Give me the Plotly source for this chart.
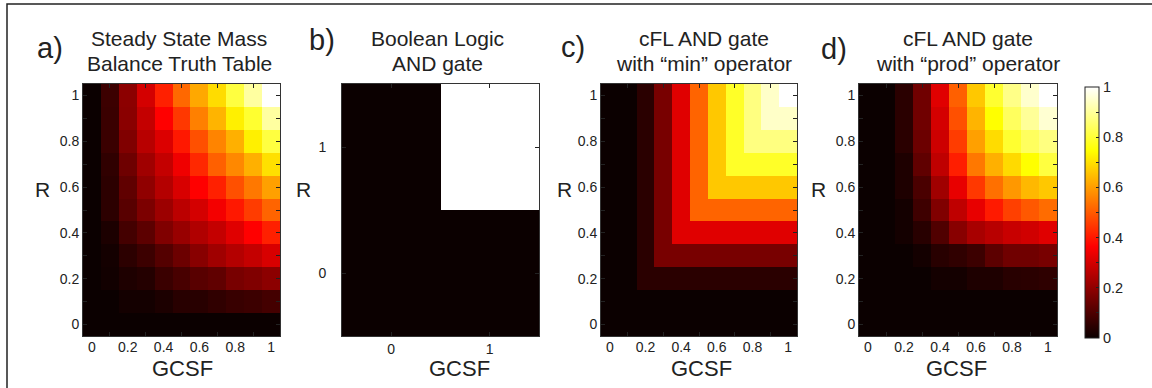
import plotly.graph_objects as go

# ---------------- data ----------------
gcsf_levels = [0.0, 0.1, 0.2, 0.3, 0.4, 0.5, 0.6, 0.7, 0.8, 0.9, 1.0]
r_levels = [0.0, 0.1, 0.2, 0.3, 0.4, 0.5, 0.6, 0.7, 0.8, 0.9, 1.0]
bool_levels = [0, 1]

x_tick_vals = [0.0, 0.2, 0.4, 0.6, 0.8, 1.0]
x_tick_text = ["0", "0.2", "0.4", "0.6", "0.8", "1"]
y_tick_vals = [0.0, 0.1, 0.2, 0.3, 0.4, 0.5, 0.6, 0.7, 0.8, 0.9, 1.0]
y_tick_text = ["0", "", "0.2", "", "0.4", "", "0.6", "", "0.8", "", "1"]
top_tick_vals = [0.1, 0.3, 0.5, 0.7, 0.9]
cbar_tick_vals = [0.0, 0.1, 0.2, 0.3, 0.4, 0.5, 0.6, 0.7, 0.8, 0.9, 1.0]
cbar_tick_text = ["0", "", "0.2", "", "0.4", "", "0.6", "", "0.8", "", "1"]

# rows: R = 0 ... 1 (bottom to top); columns: GCSF = 0 ... 1
steady_state = [
    [0, 0, 0, 0, 0, 0, 0, 0, 0, 0, 0],
    [0, 0, 0.013, 0.013, 0.026, 0.043, 0.043, 0.055, 0.067, 0.073, 0.085],
    [0, 0.011, 0.029, 0.037, 0.070, 0.091, 0.115, 0.127, 0.163, 0.175, 0.193],
    [0, 0.013, 0.049, 0.073, 0.109, 0.145, 0.187, 0.223, 0.253, 0.277, 0.306],
    [0, 0.026, 0.085, 0.121, 0.175, 0.211, 0.247, 0.277, 0.318, 0.365, 0.413],
    [0, 0.049, 0.115, 0.169, 0.217, 0.264, 0.300, 0.348, 0.401, 0.455, 0.514],
    [0, 0.049, 0.127, 0.199, 0.253, 0.306, 0.365, 0.413, 0.485, 0.544, 0.604],
    [0, 0.055, 0.148, 0.223, 0.277, 0.342, 0.425, 0.508, 0.568, 0.628, 0.700],
    [0, 0.070, 0.175, 0.259, 0.312, 0.401, 0.485, 0.562, 0.628, 0.724, 0.810],
    [0, 0.070, 0.190, 0.277, 0.365, 0.449, 0.556, 0.634, 0.724, 0.794, 0.905],
    [0, 0.073, 0.193, 0.300, 0.413, 0.520, 0.616, 0.694, 0.810, 0.905, 1.000],
]

boolean_and = [
    [0, 0],
    [0, 1],
]

cfl_min = [
    [0, 0, 0, 0, 0, 0, 0, 0, 0, 0, 0],
    [0, 0, 0, 0, 0, 0, 0, 0, 0, 0, 0],
    [0, 0, 0.046, 0.046, 0.046, 0.046, 0.046, 0.046, 0.046, 0.046, 0.046],
    [0, 0, 0.046, 0.163, 0.163, 0.163, 0.163, 0.163, 0.163, 0.163, 0.163],
    [0, 0, 0.046, 0.163, 0.318, 0.318, 0.318, 0.318, 0.318, 0.318, 0.318],
    [0, 0, 0.046, 0.163, 0.318, 0.514, 0.514, 0.514, 0.514, 0.514, 0.514],
    [0, 0, 0.046, 0.163, 0.318, 0.514, 0.664, 0.664, 0.664, 0.664, 0.664],
    [0, 0, 0.046, 0.163, 0.318, 0.514, 0.664, 0.786, 0.786, 0.786, 0.786],
    [0, 0, 0.046, 0.163, 0.318, 0.514, 0.664, 0.786, 0.873, 0.873, 0.873],
    [0, 0, 0.046, 0.163, 0.318, 0.514, 0.664, 0.786, 0.873, 0.945, 0.945],
    [0, 0, 0.046, 0.163, 0.318, 0.514, 0.664, 0.786, 0.873, 0.945, 1.000],
]

cfl_prod = [
    [0, 0, 0, 0, 0, 0, 0, 0, 0, 0, 0],
    [0, 0, 0, 0, 0, 0, 0, 0, 0, 0, 0],
    [0, 0, 0, 0, 0.013, 0.013, 0.029, 0.029, 0.043, 0.046, 0.052],
    [0, 0, 0, 0.013, 0.043, 0.055, 0.073, 0.121, 0.151, 0.151, 0.163],
    [0, 0, 0.013, 0.043, 0.103, 0.187, 0.235, 0.259, 0.283, 0.295, 0.318],
    [0, 0, 0.013, 0.076, 0.175, 0.270, 0.330, 0.404, 0.461, 0.497, 0.526],
    [0, 0, 0.029, 0.094, 0.223, 0.330, 0.449, 0.532, 0.592, 0.640, 0.664],
    [0, 0, 0.029, 0.127, 0.270, 0.410, 0.544, 0.628, 0.690, 0.746, 0.810],
    [0, 0, 0.046, 0.145, 0.290, 0.455, 0.604, 0.694, 0.794, 0.840, 0.873],
    [0, 0, 0.046, 0.151, 0.300, 0.485, 0.634, 0.746, 0.840, 0.897, 0.955],
    [0, 0, 0.046, 0.151, 0.318, 0.508, 0.664, 0.794, 0.880, 0.950, 1.000],
]

panel_letters = ["a)", "b)", "c)", "d)"]
panel_titles = [
    ("Steady State Mass", "Balance Truth Table"),
    ("Boolean Logic", "AND gate"),
    ("cFL AND gate", "with \u201cmin\u201d operator"),
    ("cFL AND gate", "with \u201cprod\u201d operator"),
]
x_label = "GCSF"
y_label = "R"

# ---------------- layout geometry (pixels) ----------------
W, H = 1152, 388
FONT = "Liberation Sans, Arial, Helvetica, sans-serif"
INK = "#222222"
hot = [[0.0, "#0b0000"], [0.365, "#ff0000"], [0.746, "#ffff00"], [1.0, "#ffffff"]]

plot_top, plot_bot = 84, 336
panels_px = [(83, 280), (342, 539), (601, 797), (859, 1057)]


def px_x(p):
    return p / W


def px_y(p):
    return 1 - p / H


fig = go.Figure()

matrices = [steady_state, boolean_and, cfl_min, cfl_prod]
for i, z in enumerate(matrices):
    xs = bool_levels if i == 1 else gcsf_levels
    ys = bool_levels if i == 1 else r_levels
    fig.add_trace(go.Heatmap(
        x=xs, y=ys, z=z, coloraxis="coloraxis",
        xaxis=f"x{i + 1}" if i else "x", yaxis=f"y{i + 1}" if i else "y",
    ))

layout = dict(
    width=W, height=H,
    margin=dict(l=0, r=0, t=0, b=0),
    paper_bgcolor="white", plot_bgcolor="white",
    font=dict(family=FONT, color=INK),
    showlegend=False,
    coloraxis=dict(
        colorscale=hot, cmin=0, cmax=1,
        colorbar=dict(
            x=px_x(1085), xanchor="left", xpad=0,
            y=px_y(87), yanchor="top", ypad=0,
            len=251, lenmode="pixels",
            thickness=14, thicknessmode="pixels",
            outlinecolor=INK, outlinewidth=1,
            tickmode="array", tickvals=cbar_tick_vals, ticktext=cbar_tick_text,
            ticks="inside", ticklen=3, tickcolor=INK,
            tickfont=dict(size=14.5, family=FONT, color=INK),
        ),
    ),
)

for i, (x0, x1) in enumerate(panels_px):
    xa = "xaxis" if i == 0 else f"xaxis{i + 1}"
    ya = "yaxis" if i == 0 else f"yaxis{i + 1}"
    yname = "y" if i == 0 else f"y{i + 1}"
    xname = "x" if i == 0 else f"x{i + 1}"
    common = dict(showline=True, linecolor="#333333", linewidth=1, mirror="allticks",
                  showgrid=False, zeroline=False, fixedrange=True,
                  tickfont=dict(size=14, family=FONT, color=INK))
    if i == 1:
        layout[xa] = dict(domain=[px_x(x0), px_x(x1)], anchor=yname, range=[-0.5, 1.5],
                          tickmode="array", tickvals=[0, 1], ticktext=["0", "1"],
                          ticks="inside", ticklen=4, tickcolor=INK,
                          ticklabelstandoff=0, **common)
        layout[ya] = dict(domain=[px_y(plot_bot), px_y(plot_top)], anchor=xname, range=[-0.5, 1.5],
                          tickmode="array", tickvals=[0, 1], ticktext=["0", "1"],
                          ticks="inside", ticklen=4, tickcolor=INK,
                          ticklabelstandoff=12, **common)
    else:
        layout[xa] = dict(domain=[px_x(x0), px_x(x1)], anchor=yname, range=[-0.05, 1.05],
                          tickmode="array", tickvals=x_tick_vals, ticktext=x_tick_text,
                          ticks="", ticklabelstandoff=-2,
                          minor=dict(tickmode="array", tickvals=top_tick_vals, ticks="inside",
                                     ticklen=4, tickcolor=INK, showgrid=False),
                          **common)
        layout[ya] = dict(domain=[px_y(plot_bot), px_y(plot_top)], anchor=xname, range=[-0.05, 1.05],
                          tickmode="array", tickvals=y_tick_vals, ticktext=y_tick_text,
                          ticks="inside", ticklen=4, tickcolor=INK,
                          ticklabelstandoff=0, **common)

fig.update_layout(**layout)

# ---------------- text ----------------
letter_pos = [(50, 48), (322, 40), (573, 47), (834, 49)]
title_cx = [179, 437, 704, 968]
ylab_cx = [42, 303, 564, 818]
xlab_cx = [182, 459, 701, 956]

for i in range(4):
    fig.add_annotation(x=px_x(letter_pos[i][0]), y=px_y(letter_pos[i][1]), xref="paper", yref="paper",
                       text=panel_letters[i], showarrow=False, xanchor="center", yanchor="middle",
                       font=dict(size=29, family=FONT, color=INK))
    fig.add_annotation(x=px_x(title_cx[i]), y=px_y(39), xref="paper", yref="paper",
                       text=panel_titles[i][0], showarrow=False, xanchor="center", yanchor="middle",
                       font=dict(size=21, family=FONT, color=INK))
    fig.add_annotation(x=px_x(title_cx[i]), y=px_y(64), xref="paper", yref="paper",
                       text=panel_titles[i][1], showarrow=False, xanchor="center", yanchor="middle",
                       font=dict(size=21, family=FONT, color=INK))
    fig.add_annotation(x=px_x(ylab_cx[i]), y=px_y(189), xref="paper", yref="paper",
                       text=y_label, showarrow=False, xanchor="center", yanchor="middle",
                       font=dict(size=21, family=FONT, color=INK))
    fig.add_annotation(x=px_x(xlab_cx[i]), y=px_y(368), xref="paper", yref="paper",
                       text=x_label, showarrow=False, xanchor="center", yanchor="middle",
                       font=dict(size=22, family=FONT, color=INK))

# outer frame (top and left edges visible)
fig.add_shape(type="rect", xref="paper", yref="paper",
              x0=px_x(7), x1=1.02, y0=-0.02, y1=px_y(4),
              line=dict(color=INK, width=1.5), fillcolor="rgba(0,0,0,0)")

fig.write_html("out.html", config={"displayModeBar": False},
               post_script="document.body.style.margin='0';document.body.style.overflow='hidden';")
